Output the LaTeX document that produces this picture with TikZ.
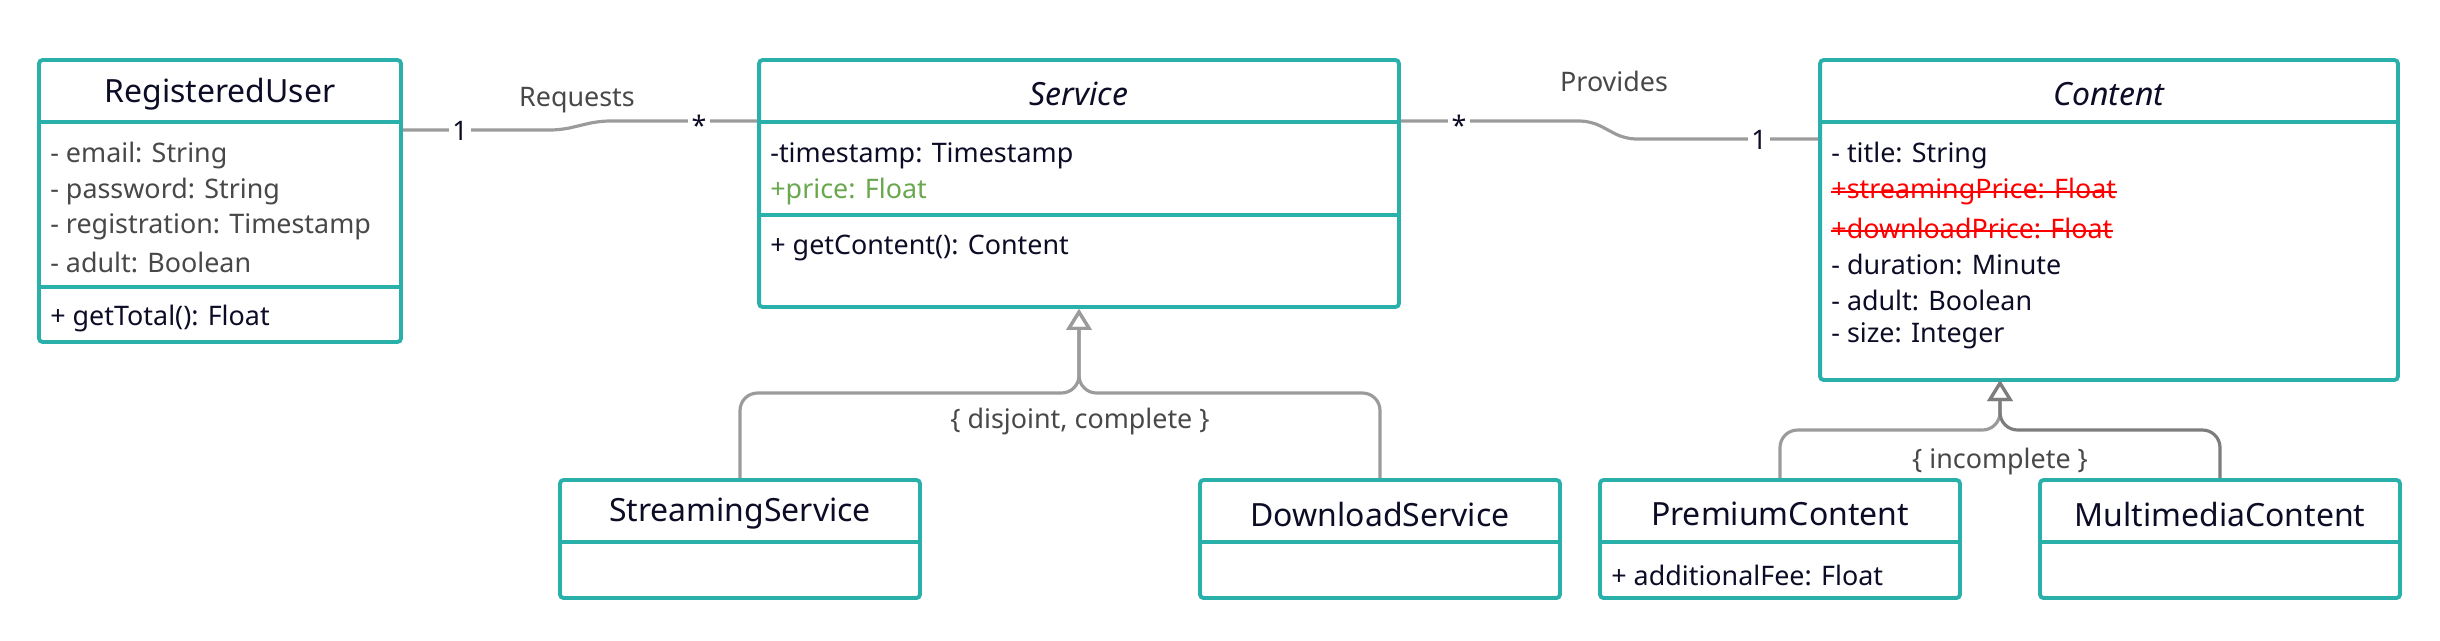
\documentclass[tikz,border=0pt]{standalone}
\usepackage{fontspec}
\setmainfont{Noto Sans}
\usetikzlibrary{arrows.meta,calc}

\definecolor{umlteal}{RGB}{41,176,170}
\definecolor{umlgrey}{RGB}{155,155,155}
\definecolor{umldark}{RGB}{125,125,125}
\definecolor{umlink}{RGB}{12,12,38}
\definecolor{umlsoft}{RGB}{72,72,72}
\definecolor{umlgreen}{RGB}{106,168,79}
\definecolor{umlred}{RGB}{255,0,0}

\tikzset{
  cls/.style={draw=umlteal, line width=2.2pt, rounded corners=2pt, fill=white, inner sep=0pt},
  divider/.style={draw=umlteal, line width=2.2pt},
  title/.style={text=umlink, inner sep=0pt, font=\fontsize{18.2}{22}\selectfont},
  attr/.style={anchor=west, text=umlink, inner sep=0pt, font=\fontsize{15.3}{18}\selectfont},
  strike/.style={draw=umlred, line width=0.9pt},
  link/.style={draw=umlgrey, line width=1.8pt, rounded corners=6pt},
  gen/.style={link, rounded corners=10pt, -{Triangle[open, length=0.42cm, width=0.5cm]}},
  mult/.style={fill=white, text=umlink, inner sep=2pt, font=\fontsize{15.3}{18}\selectfont},
  lbl/.style={text=umlsoft, inner sep=0pt, font=\fontsize{15.3}{18}\selectfont}
}

\begin{document}
\begin{tikzpicture}[x=0.02cm, y=-0.02cm]
\useasboundingbox (0,0) rectangle (2440,640);

\node[cls, minimum width=7.24cm, minimum height=5.64cm] (user) at (220,201) {};
\node[cls, minimum width=12.8cm, minimum height=4.94cm] (service) at (1079,183.5) {};
\node[cls, minimum width=11.56cm, minimum height=6.4cm] (content) at (2109,220) {};
\node[cls, minimum width=7.2cm, minimum height=2.36cm] (streaming) at (740,539) {};
\node[cls, minimum width=7.2cm, minimum height=2.36cm] (download) at (1380,539) {};
\node[cls, minimum width=7.2cm, minimum height=2.36cm] (premium) at (1780,539) {};
\node[cls, minimum width=7.2cm, minimum height=2.36cm] (multimedia) at (2220,539) {};

\draw[divider] (user.west |- 0,122) -- (user.east |- 0,122);
\draw[divider] (user.west |- 0,287) -- (user.east |- 0,287);
\draw[divider] (service.west |- 0,122) -- (service.east |- 0,122);
\draw[divider] (service.west |- 0,215) -- (service.east |- 0,215);
\draw[divider] (content.west |- 0,122) -- (content.east |- 0,122);
\foreach \c in {streaming,download,premium,multimedia}
  \draw[divider] (\c.west |- 0,542) -- (\c.east |- 0,542);

\node[title] (user-t) at (220,94) {RegisteredUser};
\node[attr, text=umlsoft] (user-a1) at (50,156) {- email: String};
\node[attr, text=umlsoft] (user-a2) at (50,191.5) {- password: String};
\node[attr, text=umlsoft] (user-a3) at (50,227) {- registration: Timestamp};
\node[attr, text=umlsoft] (user-a4) at (50,262.5) {- adult: Boolean};
\node[attr] (user-m1) at (50,319) {+ getTotal(): Float};

\node[title] (service-t) at (1079,94) {\itshape Service};
\node[attr] (service-a1) at (770,156) {-timestamp: Timestamp};
\node[attr, text=umlgreen] (service-a2) at (770,191.5) {+price: Float};
\node[attr] (service-m1) at (770,248) {+ getContent(): Content};

\node[title] (content-t) at (2109,94) {\itshape Content};
\node[attr] (content-a1) at (1831,156) {- title: String};
\node[attr, text=umlred] (content-a2) at (1831,192) {+streamingPrice: Float};
\node[attr, text=umlred] (content-a3) at (1831,228) {+downloadPrice: Float};
\node[attr] (content-a4) at (1831,264) {- duration: Minute};
\node[attr] (content-a5) at (1831,300) {- adult: Boolean};
\node[attr] (content-a6) at (1831,336) {- size: Integer};
\draw[strike] ($(content-a2.base west)+(0,-7)$) -- ($(content-a2.base east)+(0,-7)$);
\draw[strike] ($(content-a3.base west)+(0,-7)$) -- ($(content-a3.base east)+(0,-7)$);

\node[title] (streaming-t) at (740,514) {StreamingService};
\node[title] (download-t) at (1380,514) {DownloadService};
\node[title] (premium-t) at (1780,514) {PremiumContent};
\node[title] (multimedia-t) at (2220,514) {MultimediaContent};
\node[attr] (premium-a1) at (1611,575) {+ additionalFee: Float};

\coordinate (req1) at (561,130);
\coordinate (req2) at (599,121);
\draw[link] (user.east |- req1) -- (req1) -- (req2) -- (service.west |- req2);
\node[mult] at (460,131) {1};
\node[mult] at (699,125) {*};
\node[lbl] (requests) at (577,100) {Requests};

\coordinate (prov1) at (1591,121);
\coordinate (prov2) at (1625,139);
\draw[link] (service.east |- prov1) -- (prov1) -- (prov2) -- (content.west |- prov2);
\node[mult] at (1459,125) {*};
\node[mult] at (1759,140) {1};
\node[lbl] (provides) at (1614,81) {Provides};

\coordinate (srvbar) at (1079,393);
\draw[gen] (streaming.north) |- (srvbar) -- (service.south);
\draw[gen] (download.north) |- (srvbar) -- (service.south);
\node[lbl] (disjoint) at (1080,421) {\{ disjoint, complete \}};

\coordinate (cnttip) at (2000,380);
\coordinate (cntbar) at (2000,430);
\draw[gen, draw=umlgrey] (premium.north) |- (cntbar) -- (cnttip);
\draw[gen, draw=umldark] (multimedia.north) |- (cntbar) -- (cnttip);
\node[lbl] (incomplete) at (2000,461) {\{ incomplete \}};
\end{tikzpicture}
\end{document}
